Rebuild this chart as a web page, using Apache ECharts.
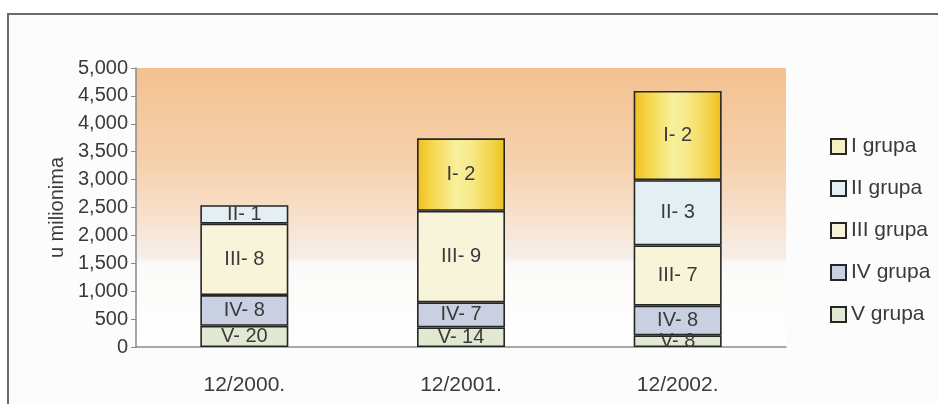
<!DOCTYPE html>
<html>
<head>
<meta charset="utf-8">
<script src="https://cdn.jsdelivr.net/npm/echarts@6/dist/echarts.min.js"></script>
<style>
  html, body { margin: 0; padding: 0; background: #fff; }
  #chart { width: 938px; height: 404px; }
</style>
</head>
<body>
<div id="chart"></div>
<script>
// kategorije i vrijednosti (u milionima) po grupama
const categories = ['12/2000.', '12/2001.', '12/2002.']
const groupNames = ['I grupa', 'II grupa', 'III grupa', 'IV grupa', 'V grupa']

const grupaV   = [380, 350, 210]
const grupaIV  = [550, 450, 530]
const grupaIII = [1280, 1640, 1080]
const grupaII  = [330, null, 1170]
const grupaI   = [null, 1300, 1600]

// broj banaka u grupi (tekst u stupcu)
const brojV   = [20, 14, 8]
const brojIV  = [8, 7, 8]
const brojIII = [8, 9, 7]
const brojII  = [1, null, 3]
const brojI   = [null, 2, 2]

const yTicks = [0, 5000, 500]

const font = 'Liberation Sans, Arial, sans-serif'
const goldGradient = new echarts.graphic.LinearGradient(0, 0, 1, 0, [
  { offset: 0, color: '#efbf1c' },
  { offset: 0.18, color: '#f5d84e' },
  { offset: 0.45, color: '#f8f09e' },
  { offset: 0.6, color: '#f7ea8c' },
  { offset: 0.85, color: '#f3d44a' },
  { offset: 1, color: '#eebf1a' }
])

function makeSeries(name, data, counts, roman, color) {
  return {
    name: name,
    type: 'bar',
    stack: 'total',
    barWidth: 88,
    data: data,
    itemStyle: { color: color, borderColor: '#262626', borderWidth: 1.6 },
    label: {
      show: true,
      position: 'inside',
      color: '#3a3a3a',
      fontFamily: font,
      fontSize: 20,
      formatter: p => roman + '- ' + counts[p.dataIndex]
    }
  }
}

const chart = echarts.init(document.getElementById('chart'))
chart.setOption({
  animation: false,
  backgroundColor: '#ffffff',
  graphic: [{
    type: 'rect',
    z: -10,
    shape: { x: 8, y: 14, width: 1000, height: 500 },
    style: { fill: '#fcfcfc', stroke: '#6a6a6a', lineWidth: 2 }
  }],
  grid: {
    left: 136, right: 152, top: 68, bottom: 57,
    show: true,
    borderWidth: 0,
    backgroundColor: new echarts.graphic.LinearGradient(0, 0, 0, 1, [
      { offset: 0, color: '#f3c18f' },
      { offset: 0.35, color: '#f6d1ae' },
      { offset: 0.55, color: '#f8e2d0' },
      { offset: 0.68, color: '#f6eee8' },
      { offset: 0.7, color: '#fbfaf8' },
      { offset: 1, color: '#ffffff' }
    ])
  },
  legend: {
    orient: 'vertical',
    left: 825,
    top: 131,
    itemWidth: 15,
    itemHeight: 15,
    itemGap: 21,
    icon: 'rect',
    textStyle: { fontFamily: font, fontSize: 21, color: '#3a3a3a' },
    data: [
      { name: 'I grupa', itemStyle: { color: '#f6efc4' } },
      { name: 'II grupa' },
      { name: 'III grupa' },
      { name: 'IV grupa' },
      { name: 'V grupa' }
    ]
  },
  xAxis: {
    type: 'category',
    data: categories,
    axisLine: { lineStyle: { color: '#8a8a8a', width: 1.5 } },
    axisTick: { length: 5, lineStyle: { color: '#8a8a8a' } },
    axisLabel: { fontFamily: font, fontSize: 21, color: '#3a3a3a', margin: 28 }
  },
  yAxis: {
    type: 'value',
    min: yTicks[0],
    max: yTicks[1],
    interval: yTicks[2],
    name: 'u milionima',
    nameLocation: 'middle',
    nameGap: 66,
    nameTextStyle: { fontFamily: font, fontSize: 20, color: '#3a3a3a' },
    axisLine: { show: true, lineStyle: { color: '#8a8a8a', width: 1.5 } },
    axisTick: { show: true, length: 5, lineStyle: { color: '#8a8a8a' } },
    splitLine: { show: false },
    axisLabel: {
      fontFamily: font, fontSize: 20, color: '#3a3a3a', margin: 8,
      formatter: v => v.toLocaleString('en-US')
    }
  },
  series: [
    makeSeries('V grupa', grupaV, brojV, 'V', '#e1e9d2'),
    makeSeries('IV grupa', grupaIV, brojIV, 'IV', '#c9d0e1'),
    makeSeries('III grupa', grupaIII, brojIII, 'III', '#f8f4d9'),
    makeSeries('II grupa', grupaII, brojII, 'II', '#e3eff2'),
    makeSeries('I grupa', grupaI, brojI, 'I', goldGradient)
  ]
})
</script>
</body>
</html>
